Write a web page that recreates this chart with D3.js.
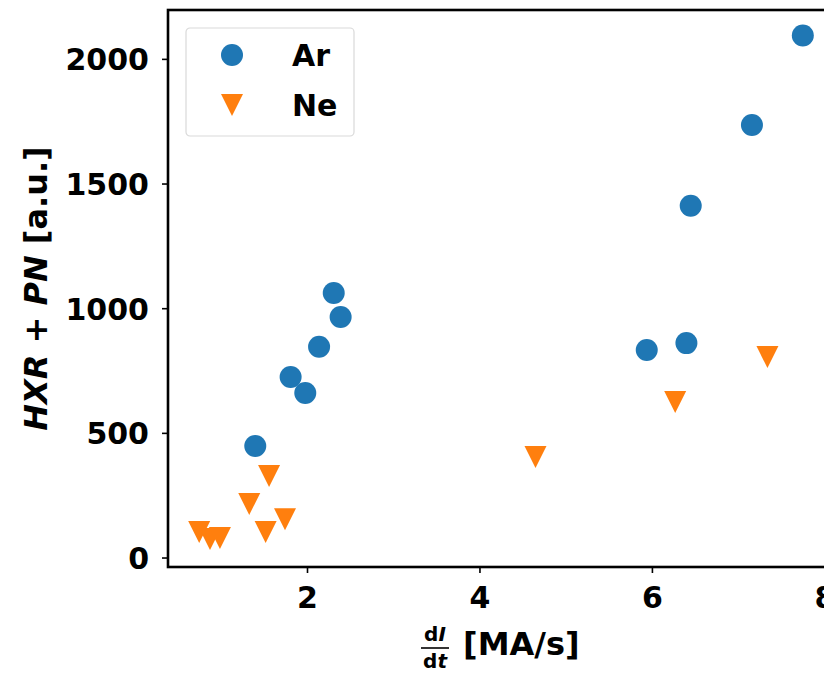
<!DOCTYPE html>
<html>
<head>
<meta charset="utf-8">
<script src="https://cdn.jsdelivr.net/npm/d3@7/dist/d3.min.js"></script>
<style>
  html, body { margin: 0; padding: 0; background: #fff; }
  svg { display: block; }
  text { font-family: "DejaVu Sans", sans-serif; font-weight: bold; fill: #000; }
</style>
</head>
<body>
<svg id="chart" width="824" height="674"></svg>
<script>
// Argon shots: current ramp rate dI/dt [MA/s] vs HXR + PN signal [a.u.]
const arX = [1.40, 1.81, 1.98, 2.14, 2.31, 2.39, 5.94, 6.40, 6.45, 7.16, 7.75];
const arY = [447, 724, 660, 845, 1061, 965, 832, 860, 1411, 1735, 2094];

// Neon shots
const neX = [0.75, 0.875, 0.99, 1.33, 1.52, 1.56, 1.745, 4.65, 6.27, 7.34];
const neY = [102, 74, 78, 215, 102, 327, 154, 403, 624, 804];

const xTicks = [2, 4, 6, 8];
const yTicks = [0, 500, 1000, 1500, 2000];
const seriesNames = ["Ar", "Ne"];
const seriesColors = ["#1f77b4", "#ff7f0e"];

const svg = d3.select("#chart");
const frame = { left: 168, top: 10, right: 833, bottom: 567 };

const x = d3.scaleLinear().domain([0.388, 8.1]).range([frame.left, frame.right]);
const y = d3.scaleLinear().domain([-38, 2196]).range([frame.bottom, frame.top]);

// Axes
const tickFont = 30;
const xAxis = svg.append("g")
  .attr("transform", `translate(0,${frame.bottom})`)
  .call(d3.axisBottom(x).tickValues(xTicks).tickSize(6).tickPadding(12).tickFormat(d3.format("d")));
const yAxis = svg.append("g")
  .attr("transform", `translate(${frame.left},0)`)
  .call(d3.axisLeft(y).tickValues(yTicks).tickSize(6).tickPadding(13).tickFormat(d3.format("d")));

[xAxis, yAxis].forEach(g => {
  g.select(".domain").remove();
  g.selectAll(".tick line").attr("stroke", "#000").attr("stroke-width", 1.6);
  g.selectAll(".tick text")
    .attr("font-family", "DejaVu Sans, sans-serif")
    .attr("font-weight", "bold")
    .attr("font-size", tickFont)
    .attr("fill", "#000");
});
yAxis.selectAll(".tick text").attr("dy", "0.36em");
xAxis.selectAll(".tick text").attr("dy", "0.76em");

// Frame (spines)
svg.append("rect")
  .attr("x", frame.left).attr("y", frame.top)
  .attr("width", frame.right - frame.left).attr("height", frame.bottom - frame.top)
  .attr("fill", "none").attr("stroke", "#000").attr("stroke-width", 2.6);

// Markers
const plot = svg.append("g");
const r = 11;
const triDown = s => `M${-s},${-s}L${s},${-s}L0,${s}Z`;

plot.selectAll("circle.ar")
  .data(d3.zip(arX, arY))
  .join("circle")
  .attr("class", "ar")
  .attr("cx", d => x(d[0]))
  .attr("cy", d => y(d[1]))
  .attr("r", r)
  .attr("fill", seriesColors[0]);

plot.selectAll("path.ne")
  .data(d3.zip(neX, neY))
  .join("path")
  .attr("class", "ne")
  .attr("transform", d => `translate(${x(d[0])},${y(d[1])})`)
  .attr("d", triDown(r))
  .attr("fill", seriesColors[1]);

// Legend
const legend = svg.append("g").attr("transform", "translate(186,28)");
legend.append("rect")
  .attr("width", 168).attr("height", 108).attr("rx", 4)
  .attr("fill", "#fff").attr("fill-opacity", 0.8)
  .attr("stroke", "#d9d9d9").attr("stroke-width", 1.2);
seriesNames.forEach((name, i) => {
  const cy = 27 + i * 50;
  if (i === 0) {
    legend.append("circle").attr("cx", 46).attr("cy", cy).attr("r", r).attr("fill", seriesColors[0]);
  } else {
    legend.append("path").attr("transform", `translate(46,${cy})`).attr("d", triDown(r)).attr("fill", seriesColors[1]);
  }
  legend.append("text")
    .attr("x", 106).attr("y", cy + 11)
    .attr("font-size", tickFont)
    .text(name);
});

// Y axis label
const yLab = svg.append("text")
  .attr("transform", `translate(47,${(frame.top + frame.bottom) / 2}) rotate(-90)`)
  .attr("text-anchor", "middle")
  .attr("font-size", 32);
yLab.append("tspan").attr("font-style", "italic").text("HXR");
yLab.append("tspan").text(" + ");
yLab.append("tspan").attr("font-style", "italic").text("PN");
yLab.append("tspan").text(" [a.u.]");

// X axis label: fraction dI/dt followed by units
const fx = 435;
const num = svg.append("text").attr("x", fx).attr("y", 641).attr("text-anchor", "middle").attr("font-size", 20);
num.append("tspan").text("d");
num.append("tspan").attr("font-style", "italic").text("I");
svg.append("line").attr("x1", 421).attr("x2", 449).attr("y1", 648).attr("y2", 648)
  .attr("stroke", "#000").attr("stroke-width", 1.6);
const den = svg.append("text").attr("x", fx).attr("y", 668).attr("text-anchor", "middle").attr("font-size", 20);
den.append("tspan").text("d");
den.append("tspan").attr("font-style", "italic").text("t");
svg.append("text").attr("x", 463).attr("y", 655).attr("font-size", 32).text("[MA/s]");
</script>
</body>
</html>
